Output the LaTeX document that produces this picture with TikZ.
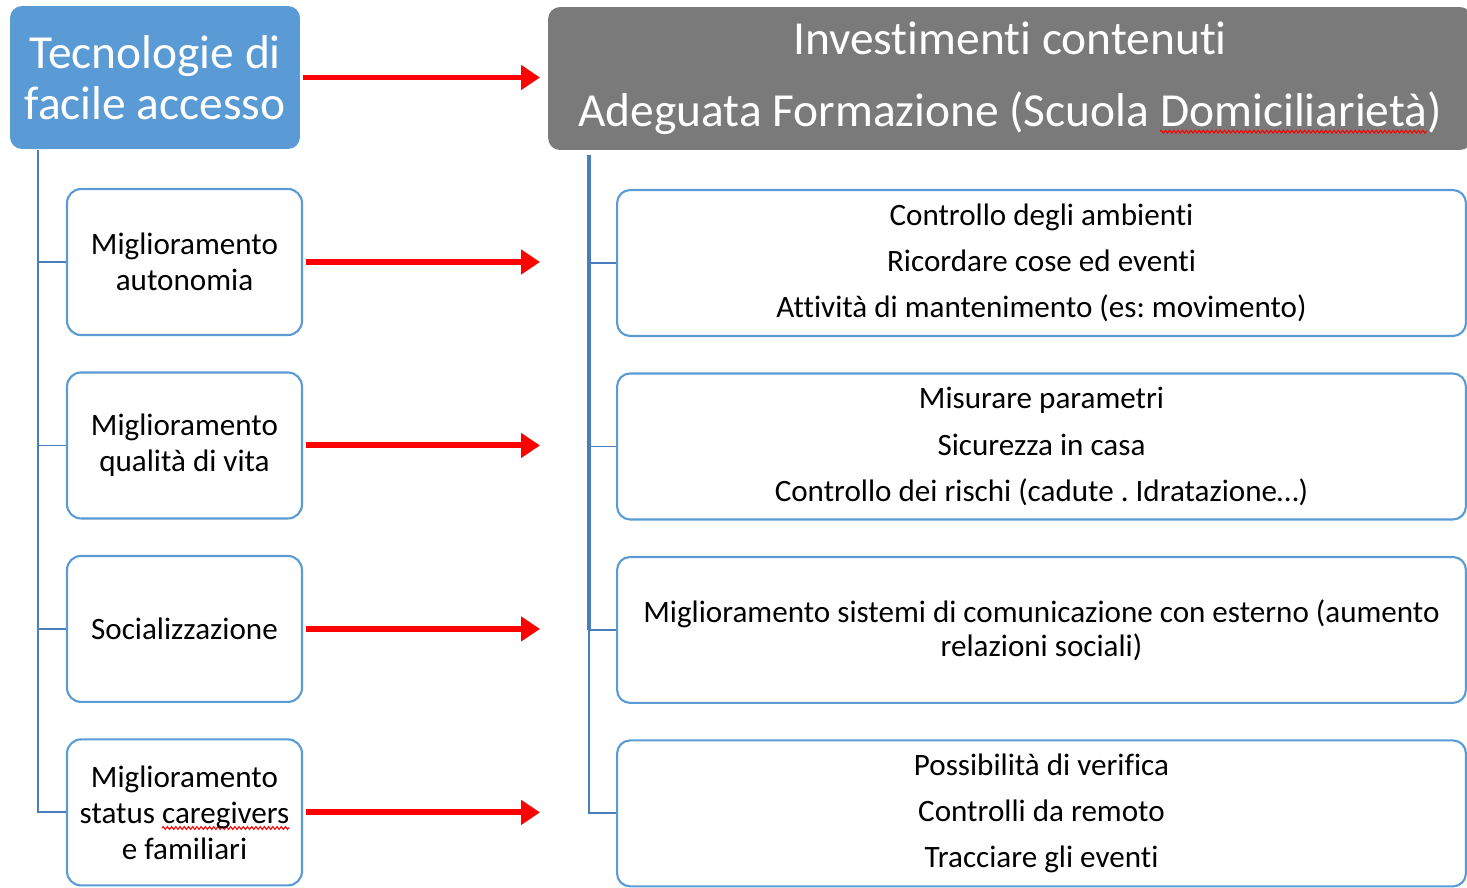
\documentclass[tikz,border=0pt]{standalone}
\usepackage{fontspec}
\setmainfont{Carlito}[Ligatures=NoCommon]
\usepackage{tikz}
\usetikzlibrary{
        arrows.meta,
        calc,
        decorations.pathmorphing,
        positioning
    }
\frenchspacing
\definecolor{tecblue}{HTML}{5B9BD5}
\definecolor{headgrey}{HTML}{7A7A7A}
\definecolor{boxline}{HTML}{5B9BD5}
\definecolor{treeblue}{HTML}{4A7EBB}
% red wavy spell-check line under a word
\newcommand{\spellmark}[1]{\setbox0\hbox{#1}\rlap{\tikz[overlay,baseline=0pt,x=1pt,y=1pt]\draw[red,line width=0.6pt,sharp corners,decorate,
    decoration={zigzag,amplitude=0.8pt,segment length=2.4pt}] (0pt,-2.8pt) -- (\the\wd0,-2.8pt);}\box0}
\tikzset{
    topbox/.style={rectangle,rounded corners=0.24cm,fill=tecblue,text=white,align=center,
        minimum width=5.8cm,minimum height=2.86cm,font=\fontsize{27}{29}\selectfont},
    headbox/.style={rectangle,rounded corners=0.24cm,fill=headgrey,text=white,align=center,
        minimum width=18.48cm,minimum height=2.86cm,font=\fontsize{27}{30}\selectfont},
    leftbox/.style={rectangle,rounded corners=0.28cm,draw=boxline,line width=1.2pt,fill=white,
        align=center,minimum width=4.7cm,minimum height=2.92cm,font=\fontsize{17.7}{20.5}\selectfont},
    rightbox/.style={rectangle,rounded corners=0.26cm,draw=boxline,line width=1.2pt,fill=white,
        align=center,minimum width=16.98cm,minimum height=2.92cm,font=\fontsize{17.7}{19.3}\selectfont},
    treeline/.style={draw=treeblue,line width=1.1pt},
    trunkline/.style={draw=treeblue,line width=2.2pt},
    redarrow/.style={draw=red,line width=3.4pt,shorten <=0.06cm,-{Triangle[length=0.38cm,width=0.48cm]}}
}

\begin{document}
\begin{tikzpicture}[x=0.02cm,y=-0.02cm,node distance=3.67cm]
    \useasboundingbox (0,0) rectangle (1467,887);
    \clip (0,0) rectangle (1467,887);
    % tree trunks and arrow end line
    \coordinate (ltrunk) at (38,150);
    \coordinate (rtrunk) at (589,155);
    \coordinate (tips) at (540,0);

    \node[topbox] (tec) at (155,77.5) {Tecnologie di\\facile accesso};
    \node[headbox] (inv) at (1010,78.5) {Investimenti contenuti\\[11pt]Adeguata Formazione (Scuola \spellmark{Domiciliarietà})};

    \node[leftbox] (l1) at (184.5,262) {Miglioramento\\autonomia};
    \node[leftbox] (l2) [below of=l1] {Miglioramento\\qualità di vita};
    \node[leftbox] (l3) [below of=l2] {Socializzazione};
    \node[leftbox] (l4) [below of=l3] {Miglioramento\\status \spellmark{caregivers}\\e familiari};

    \node[rightbox] (r1) at (1041.5,263) {Controllo degli ambienti\\[7pt]Ricordare cose ed eventi\\[7pt]Attività di mantenimento (es: movimento)};
    \node[rightbox] (r2) [below of=r1] {Misurare parametri\\[7pt]Sicurezza in casa\\[7pt]Controllo dei rischi (cadute . Idratazione…)};
    \node[rightbox] (r3) [below of=r2] {Miglioramento sistemi di comunicazione con esterno (aumento\\relazioni sociali)};
    \node[rightbox] (r4) [below of=r3] {Possibilità di verifica\\[7pt]Controlli da remoto\\[7pt]Tracciare gli eventi};

    \foreach \n in {l1,l2,l3,l4}
        \draw[treeline] (ltrunk) |- (\n.west);
    \foreach \n in {r1,r2,r3,r4}
        \draw[treeline] (rtrunk) |- (\n.west);
    \draw[trunkline] (rtrunk) -- (rtrunk |- r3.west);

    \draw[redarrow] (tec.east) -- (tec.east -| tips);
    \foreach \n in {l1,l2,l3,l4}
        \draw[redarrow] (\n.east) -- (\n.east -| tips);
\end{tikzpicture}
\end{document}
